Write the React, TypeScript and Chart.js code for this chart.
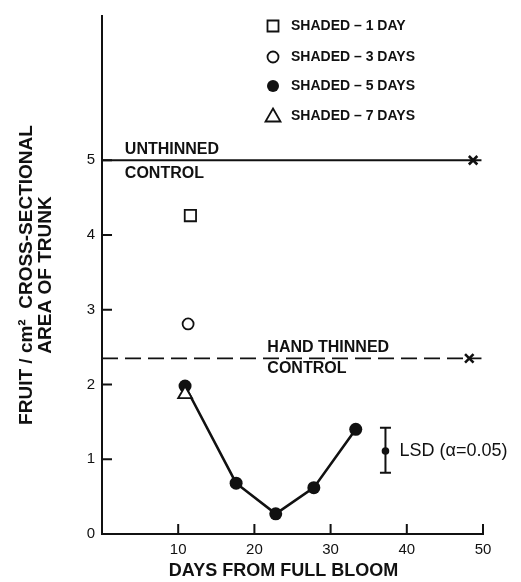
import React, { useEffect, useRef } from 'react';
import { Chart, registerables } from 'chart.js';

Chart.register(...registerables);

// ---- data ----
const xTicks = [10, 20, 30, 40, 50];
const yTicks = [0, 1, 2, 3, 4, 5];

const days1 = [11.6];
const fruit1 = [4.26];
const days3 = [11.3];
const fruit3 = [2.81];
const days5 = [10.9, 17.6, 22.8, 27.8, 33.3];
const fruit5 = [1.98, 0.68, 0.27, 0.62, 1.4];
const days7 = [10.9];
const fruit7 = [1.87];

const controlLineX = [0, 49.8];
const unthinnedLevel = 5.0;
const unthinnedMarkX = 48.7;
const handThinnedLevel = 2.35;
const handThinnedMarkX = 48.2;

const lsdX = 37.2;
const lsdMean = 1.11;
const lsdLow = 0.82;
const lsdHigh = 1.42;

const legendLabels = ['SHADED – 1 DAY', 'SHADED – 3 DAYS', 'SHADED – 5 DAYS', 'SHADED – 7 DAYS'];
const legendStyles = ['rect', 'circle', 'circle-filled', 'triangle'];

const FONT = "'Liberation Sans', Arial, Helvetica, sans-serif";
const INK = '#111111';

const pts = (xs: number[], ys: number[]) => xs.map((x, i) => ({ x, y: ys[i] }));

const annotations = {
  id: 'annotations',
  afterDraw(chart: any) {
    const { ctx, scales } = chart;
    const xs = scales.x;
    const ys = scales.y;
    const X = (v: number) => xs.getPixelForValue(v);
    const Y = (v: number) => ys.getPixelForValue(v);
    ctx.save();
    ctx.strokeStyle = INK;
    ctx.fillStyle = INK;
    ctx.lineWidth = 2;
    // inward tick marks
    ctx.beginPath();
    yTicks.filter((v) => v > 0).forEach((v) => {
      ctx.moveTo(X(0), Y(v));
      ctx.lineTo(X(0) + 10, Y(v));
    });
    xTicks.forEach((v) => {
      ctx.moveTo(X(v), Y(0));
      ctx.lineTo(X(v), Y(0) - 10);
    });
    ctx.stroke();

    // LSD error bar
    const lx = X(lsdX);
    ctx.lineWidth = 2;
    ctx.beginPath();
    ctx.moveTo(lx, Y(lsdLow));
    ctx.lineTo(lx, Y(lsdHigh));
    ctx.moveTo(lx - 5.5, Y(lsdLow));
    ctx.lineTo(lx + 5.5, Y(lsdLow));
    ctx.moveTo(lx - 5.5, Y(lsdHigh));
    ctx.lineTo(lx + 5.5, Y(lsdHigh));
    ctx.stroke();
    ctx.beginPath();
    ctx.arc(lx, Y(lsdMean), 3.8, 0, Math.PI * 2);
    ctx.fill();
    ctx.font = `18px ${FONT}`;
    ctx.textBaseline = 'middle';
    ctx.textAlign = 'left';
    ctx.fillText('LSD (α=0.05)', lx + 14, Y(lsdMean));

    // control labels
    ctx.font = `bold 16px ${FONT}`;
    ctx.fillText('UNTHINNED', X(3), Y(unthinnedLevel) - 11);
    ctx.fillText('CONTROL', X(3), Y(unthinnedLevel) + 13);
    ctx.fillText('HAND THINNED', X(21.7), Y(handThinnedLevel) - 11);
    ctx.fillText('CONTROL', X(21.7), Y(handThinnedLevel) + 10);

    // legend
    const mx = 273;
    const tx = 291;
    const rows = [26, 57, 86, 116];
    ctx.font = `bold 14px ${FONT}`;
    legendLabels.forEach((label, i) => {
      const y = rows[i];
      const st = legendStyles[i];
      ctx.lineWidth = 1.8;
      ctx.beginPath();
      if (st === 'rect') {
        ctx.rect(mx - 5.5, y - 5.5, 11, 11);
        ctx.stroke();
      } else if (st === 'circle') {
        ctx.arc(mx, y, 5.5, 0, Math.PI * 2);
        ctx.stroke();
      } else if (st === 'circle-filled') {
        ctx.arc(mx, y, 6, 0, Math.PI * 2);
        ctx.fill();
      } else {
        ctx.moveTo(mx, y - 7.5);
        ctx.lineTo(mx + 7.5, y + 5.5);
        ctx.lineTo(mx - 7.5, y + 5.5);
        ctx.closePath();
        ctx.stroke();
      }
      ctx.fillText(label, tx, y);
    });
    ctx.restore();
  },
};

export default function App() {
  const ref = useRef<HTMLCanvasElement | null>(null);
  useEffect(() => {
    if (!ref.current) return;
    const chart = new Chart(ref.current, {
      type: 'scatter',
      data: {
        datasets: [
          {
            label: 'Unthinned control',
            data: pts(controlLineX, controlLineX.map(() => unthinnedLevel)),
            showLine: true,
            borderColor: INK,
            borderWidth: 1.8,
            pointRadius: 0,
          },
          {
            label: 'Unthinned mark',
            data: [{ x: unthinnedMarkX, y: unthinnedLevel }],
            pointStyle: 'crossRot',
            pointRadius: 6,
            borderColor: INK,
            borderWidth: 2.6,
          },
          {
            label: 'Hand thinned control',
            data: pts(controlLineX, controlLineX.map(() => handThinnedLevel)),
            showLine: true,
            borderColor: INK,
            borderWidth: 1.8,
            borderDash: [16, 7],
            pointRadius: 0,
          },
          {
            label: 'Hand thinned mark',
            data: [{ x: handThinnedMarkX, y: handThinnedLevel }],
            pointStyle: 'crossRot',
            pointRadius: 6,
            borderColor: INK,
            borderWidth: 2.6,
          },
          {
            label: legendLabels[3],
            data: pts(days7, fruit7),
            pointStyle: 'triangle',
            pointRadius: 8,
            borderColor: INK,
            borderWidth: 1.8,
            backgroundColor: '#ffffff',
          },
          {
            label: legendLabels[2],
            data: pts(days5, fruit5),
            showLine: true,
            pointStyle: 'circle',
            pointRadius: 6.5,
            borderColor: INK,
            borderWidth: 2.6,
            backgroundColor: INK,
            pointBorderWidth: 0,
          },
          {
            label: legendLabels[1],
            data: pts(days3, fruit3),
            pointStyle: 'circle',
            pointRadius: 5.5,
            borderColor: INK,
            borderWidth: 1.8,
            backgroundColor: '#ffffff',
          },
          {
            label: legendLabels[0],
            data: pts(days1, fruit1),
            pointStyle: 'rect',
            pointRadius: 8,
            borderColor: INK,
            borderWidth: 1.8,
            backgroundColor: '#ffffff',
          },
        ],
      },
      options: {
        animation: false,
        responsive: false,
        devicePixelRatio: 1,
        layout: { padding: { left: 0, top: 12, right: 38, bottom: 0 } },
        plugins: { legend: { display: false }, tooltip: { enabled: false } },
        scales: {
          x: {
            type: 'linear',
            min: 0,
            max: 50,
            afterBuildTicks: (s: any) => {
              s.ticks = xTicks.map((v) => ({ value: v }));
            },
            afterFit: (s: any) => {
              s.height = 48;
            },
            grid: { display: false, drawTicks: false },
            border: { display: true, color: INK, width: 2 },
            ticks: {
              color: INK,
              padding: 7,
              maxRotation: 0,
              font: { family: FONT, size: 15 },
            },
            title: {
              display: true,
              text: 'DAYS FROM FULL BLOOM\u2002\u2002',
              color: INK,
              padding: { top: 0, bottom: 1.5 },
              font: { family: FONT, size: 18, weight: 'bold', lineHeight: 1.0 },
            },
          },
          y: {
            type: 'linear',
            min: 0,
            max: 6.93,
            afterBuildTicks: (s: any) => {
              s.ticks = yTicks.map((v) => ({ value: v }));
            },
            afterFit: (s: any) => {
              s.width = 102;
            },
            grid: { display: false, drawTicks: false },
            border: { display: true, color: INK, width: 2 },
            ticks: {
              color: INK,
              padding: 7,
              font: { family: FONT, size: 15 },
            },
            title: {
              display: true,
              text: ['FRUIT / cm²  CROSS-SECTIONAL', 'AREA OF TRUNK'],
              color: INK,
              padding: { top: 17, bottom: 0 },
              font: { family: FONT, size: 19, weight: 'bold', lineHeight: 1.0 },
            },
          },
        },
      },
      plugins: [annotations],
    } as any);
    return () => chart.destroy();
  }, []);
  return (
    <div style={{ position: 'absolute', left: 0, top: 0, width: 521, height: 582, background: '#fff' }}>
      <canvas ref={ref} width={521} height={582} />
    </div>
  );
}
